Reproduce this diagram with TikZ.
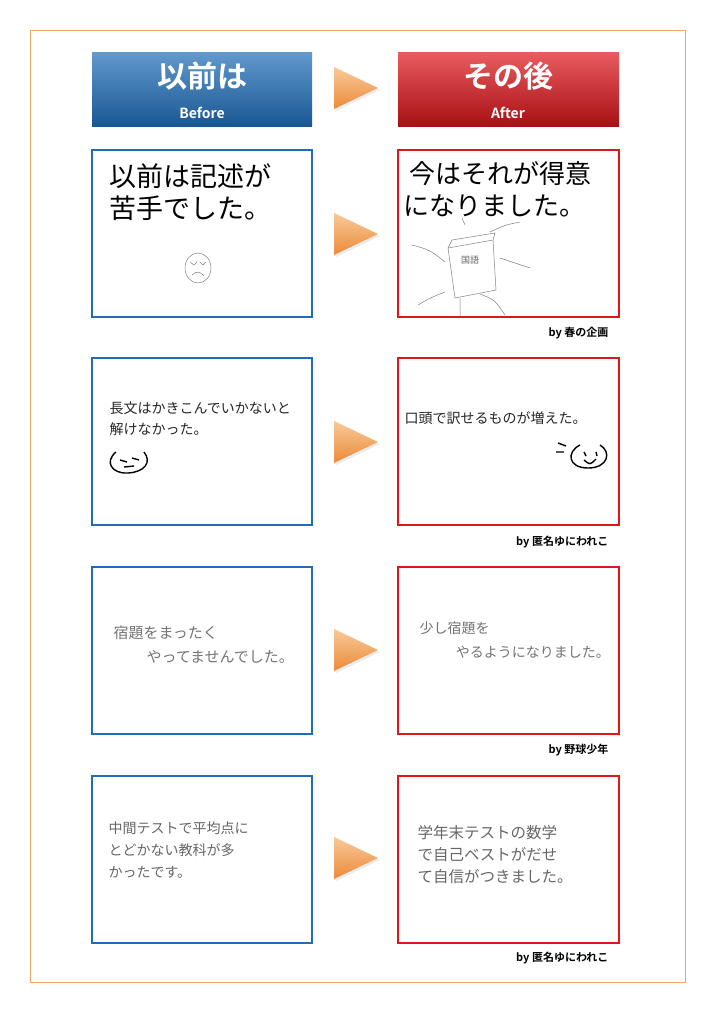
\documentclass[tikz,border=0pt]{standalone}
\usepackage{fontspec}
\newfontfamily\jp{Noto Sans CJK JP}
\newfontfamily\jpb{Noto Sans CJK JP Bold}
\usetikzlibrary{shadings}
\definecolor{bl}{HTML}{1F6DB8}
\definecolor{rd}{HTML}{E0161B}
\definecolor{fr}{HTML}{F0A868}
\definecolor{tA}{HTML}{F9C99A}
\definecolor{tB}{HTML}{EC8A3A}
\tikzset{
 lp/.style={draw=bl,line width=1.6pt,fill=white},
 rp/.style={draw=rd,line width=1.6pt,fill=white},
 hws/.style={font=\jp\fontsize{14}{21}\selectfont,text=black!85,align=left,anchor=north west},
 hwg/.style={font=\jp\fontsize{15}{24}\selectfont,text=black!55,align=left,anchor=north west},
 cred/.style={font=\jpb\fontsize{11}{12}\selectfont,anchor=east},
 tri/.style={top color=tA,bottom color=tB,draw=none},
 sk/.style={draw=black!50,line width=0.5pt},
 face/.style={draw=black,line width=1.4pt}
}
\begin{document}
\begin{tikzpicture}[x=1pt,y=-1pt]
\useasboundingbox (0,0) rectangle (714,1010);
\fill[white] (0,0) rectangle (714,1010);
\draw[fr,line width=0.8pt] (30,30) rectangle (685,982);
% headers
\shade[top color=bl!70!white,bottom color=bl!80!black] (92,52) rectangle (312,126);
\shade[top color=rd!70!white,bottom color=rd!75!black] (398,52) rectangle (619,126);
\node[font=\jpb\fontsize{30}{30}\selectfont,text=white] (h1) at (202,76) {以前は};
\node[font=\jpb\fontsize{14}{14}\selectfont,text=white] (h1e) at (202,113) {Before};
\node[font=\jpb\fontsize{30}{30}\selectfont,text=white] (h2) at (508,76) {その後};
\node[font=\jpb\fontsize{14}{14}\selectfont,text=white] (h2e) at (508,113) {After};
\foreach \y in {88,234,442,650,858}{
 \fill[black!7] (336,\y-19) -- (380,\y+2) -- (336,\y+23) -- cycle;
 \shade[tri] (334,\y-21) -- (378,\y) -- (334,\y+21) -- cycle;
}
% panels
\foreach \t in {150,358,567,776}{
 \draw[lp] (92,\t) rectangle (312,\t+167);
 \draw[rp] (398,\t) rectangle (619,\t+167);
}
% row1
\node[font=\jp\fontsize{27}{32}\selectfont,align=left,anchor=north west] (l1) at (106,160) {以前は記述が\\苦手でした。};
\draw[sk] (198,268) ellipse (13 and 15);
\draw[sk] (190,262) -- (194,265) -- (197,262) (200,262) -- (203,265) -- (206,262) (192,275) .. controls (196,271) and (200,271) .. (204,276);
\node[font=\jp\fontsize{26}{32}\selectfont,align=left,anchor=north west] (r1) at (400,158) {\ 今はそれが得意\\になりました。};
\draw[sk] (448,248) -- (493,240) -- (496,290) -- (455,298) -- cycle;
\draw[sk] (448,248) -- (452,240) -- (495,233) -- (493,240);
\node[font=\jp\fontsize{9}{9}\selectfont,text=black!60] (kk) at (470,260) {国語};
\draw[sk] (412,245) .. controls (430,250) .. (445,262) (500,258) -- (530,268)
 (490,232) .. controls (505,225) .. (520,222) (465,225) -- (462,218)
 (460,298) -- (460,316) (480,294) .. controls (495,300) .. (505,315)
 (445,292) .. controls (430,298) .. (418,305);
\node[cred] (c1) at (612,333) {by 春の企画};
% row2
\node[hws] (l2) at (106,398) {長文はかきこんでいかないと\\解けなかった。};
\draw[face] (116,452) .. controls (104,462) and (112,474) .. (128,473) .. controls (145,472) and (152,462) .. (144,452);
\draw[face] (120,460) -- (127,462) (132,458) -- (139,460) (124,467) -- (134,466);
\node[hws] (r2) at (401,408) {口頭で訳せるものが増えた。};
\draw[face] (580,445) .. controls (566,452) and (568,468) .. (588,468) .. controls (608,468) and (612,452) .. (600,445);
\draw[face] (584,452) -- (586,456) (596,452) -- (597,456) (584,460) .. controls (590,465) .. (596,459)
 (558,443) -- (566,446) (556,452) -- (564,452);
\node[cred] (c2) at (612,542) {by 匿名ゆにわれこ};
% row3
\node[hwg] (l3) at (110,622) {宿題をまったく\\\hspace{2.2em}やってませんでした。};
\node[hwg,font=\jp\fontsize{14}{24}\selectfont] (r3) at (416,618) {少し宿題を\\\hspace{2.6em}やるようになりました。};
\node[cred] (c3) at (612,750) {by 野球少年};
% row4
\node[hwg,text=black!60,font=\jp\fontsize{14}{22}\selectfont] (l4) at (105,818) {中間テストで平均点に\\とどかない教科が多\\かったです。};
\node[hwg,text=black!60,font=\jp\fontsize{15.5}{22}\selectfont] (r4) at (414,822) {学年末テストの数学\\で自己ベストがだせ\\て自信がつきました。};
\node[cred] (c4) at (612,958) {by 匿名ゆにわれこ};
\end{tikzpicture}
\end{document}
